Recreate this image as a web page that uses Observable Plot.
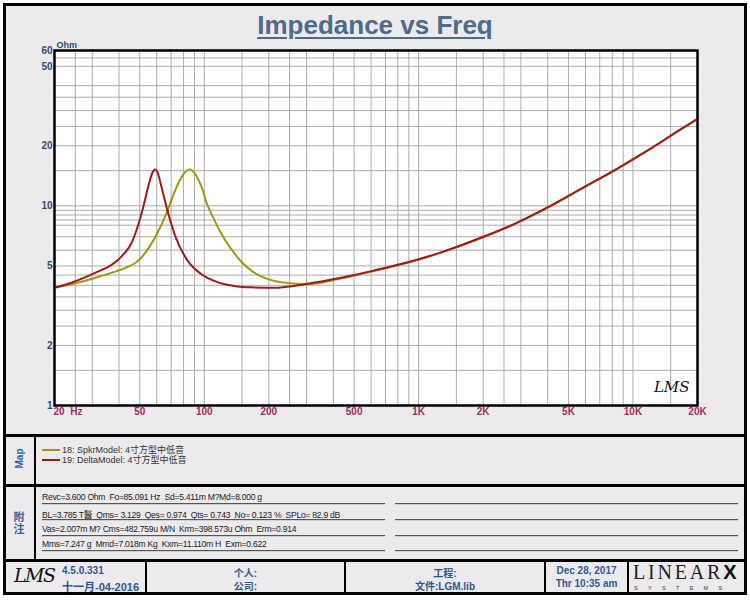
<!DOCTYPE html>
<html><head><meta charset="utf-8">
<script src="https://cdn.jsdelivr.net/npm/d3@7"></script>
<script src="https://cdn.jsdelivr.net/npm/@observablehq/plot@0.6"></script>
<style>
body{margin:0;background:#fff;}
#page{position:relative;width:750px;height:600px;background:#fff;font-family:"Liberation Sans",Arial,"Noto Sans CJK SC",sans-serif;overflow:hidden;}
#sheet{position:absolute;left:3px;top:3px;width:738px;height:586px;border:3px solid #000;background:#edeaee;}
.abs{position:absolute;}
.hsep{position:absolute;left:3px;width:744px;height:3px;background:#000;}
.vsep{position:absolute;width:2px;background:#000;}
#title{position:absolute;left:0;width:750px;top:10px;text-align:center;font-family:"Liberation Sans Narrow","Arial Narrow","Liberation Sans",sans-serif;font-stretch:condensed;font-weight:bold;font-size:26px;color:#4e6b8b;text-decoration:underline;text-decoration-thickness:2px;text-underline-offset:3px;}
#chart{position:absolute;left:0;top:0;}
.leg{position:absolute;left:42px;font-size:9px;color:#333;white-space:nowrap;line-height:10px;}
.sw{display:inline-block;width:18px;height:2px;vertical-align:middle;margin-right:2px;position:relative;top:-1px;}
.side{position:absolute;color:#35609a;font-weight:bold;font-size:10px;}
.note{position:absolute;left:42px;font-size:8.6px;letter-spacing:-0.28px;color:#222;white-space:pre;}
.nl{position:absolute;height:1px;background:#555;border-bottom:1px solid #cfcfcf;}
.ft{position:absolute;font-size:10px;font-weight:bold;color:#2d5a94;text-align:center;white-space:nowrap;}
</style></head>
<body><div id="page">
<div id="sheet"></div>
<div id="title">Impedance vs Freq</div>
<div id="chart"></div>
<div class="hsep" style="top:434px"></div>
<div class="hsep" style="top:484px"></div>
<div class="hsep" style="top:559px"></div>
<div class="vsep" style="left:34px;top:437px;height:122px"></div>
<div class="vsep" style="left:145px;top:562px;height:30px"></div>
<div class="vsep" style="left:344px;top:562px;height:30px"></div>
<div class="vsep" style="left:544px;top:562px;height:30px"></div>
<div class="vsep" style="left:627px;top:562px;height:30px"></div>
<div id="legend"></div>
<div class="side" style="left:5px;top:453px;width:28px;text-align:center;transform:rotate(-90deg);">Map</div>
<div class="side" style="left:12px;top:511px;width:14px;font-size:11px;line-height:12px;text-align:center;">附<br>注</div>
<div id="notes"></div>
<div class="abs" style="left:14px;top:564px;font-family:'DejaVu Serif',serif;font-style:italic;font-size:19px;color:#111;letter-spacing:-1.5px;">LMS</div>
<div class="ft" style="left:62px;top:565px;text-align:left;">4.5.0.331</div>
<div class="ft" style="left:62px;top:578px;text-align:left;font-size:11px;">十一月-04-2016</div>
<div class="ft" style="left:147px;width:197px;top:565px;">个人:</div>
<div class="ft" style="left:147px;width:197px;top:578px;">公司:</div>
<div class="ft" style="left:346px;width:198px;top:565px;">工程:</div>
<div class="ft" style="left:346px;width:198px;top:578px;">文件:LGM.lib</div>
<div class="ft" style="left:546px;width:81px;top:565px;">Dec 28, 2017</div>
<div class="ft" style="left:546px;width:81px;top:578px;">Thr 10:35 am</div>
<div class="abs" style="left:633px;top:561px;font-family:'Liberation Serif',serif;font-size:20px;line-height:22px;color:#222;letter-spacing:2.8px;white-space:nowrap;">LINEAR<span style="font-family:'Liberation Sans';font-weight:900;color:#111;letter-spacing:0;">X</span></div>
<div class="abs" style="left:634px;top:585px;font-size:5.5px;line-height:6px;color:#333;letter-spacing:10.3px;white-space:nowrap;">SYSTEMS</div>
</div>
<script>
// ---- data ----
const spkrLabel = "18: SpkrModel: 4寸方型中低音";
const deltaLabel = "19: DeltaModel: 4寸方型中低音";
const spkrFreq = [20, 24, 27, 33, 39, 44, 47, 49.5, 52, 56, 61, 65, 69, 72, 76, 79, 82, 85, 88, 92, 98, 103, 110, 115, 125, 138, 150, 165, 180, 212, 253, 303, 434, 621, 889, 1273, 2000, 2802, 4010, 5740, 8220, 11770, 16800, 20000];
const spkrZ    = [3.88, 4.05, 4.18, 4.45, 4.71, 4.95, 5.13, 5.35, 5.67, 6.34, 7.46, 8.63, 10.14, 11.47, 13.13, 14.13, 14.85, 15.2, 15.0, 14.1, 12.1, 10.2, 8.75, 7.9, 6.75, 5.8, 5.2, 4.75, 4.48, 4.2, 4.1, 4.05, 4.33, 4.72, 5.18, 5.83, 6.95, 8.1, 9.8, 12.15, 15.05, 19.0, 24.2, 27.2];
const deltaFreq = [20, 24, 27.4, 32.8, 36, 39.3, 41.5, 43.7, 45.7, 47.8, 51.4, 55.2, 57.2, 58.9, 60.7, 62.6, 67.3, 73.5, 83.4, 96.2, 115, 143, 165, 211, 303, 434, 621, 889, 1273, 2000, 2802, 4010, 5740, 8220, 11770, 16800, 20000];
const deltaZ    = [3.9, 4.12, 4.36, 4.75, 4.98, 5.32, 5.65, 6.02, 6.5, 7.33, 9.48, 12.9, 14.6, 15.2, 14.6, 12.9, 9.48, 6.97, 5.33, 4.57, 4.15, 3.95, 3.91, 3.89, 4.07, 4.36, 4.75, 5.22, 5.85, 7.0, 8.13, 9.85, 12.2, 15.1, 19.0, 24.3, 27.3];
const xTickValues = [50, 100, 200, 500, 1000, 2000, 5000, 10000, 20000];
const xTickLabels = ["50", "100", "200", "500", "1K", "2K", "5K", "10K", "20K"];
const xFirstTick = 20;
const xFirstLabel = "20  Hz";
const yTickValues = [1, 2, 5, 10, 20, 50, 60];
const yTickLabels = ["1", "2", "5", "10", "20", "50", "60"];
const xGridMantissa = [1, 1.5, 2, 2.5, 3, 4, 5, 6, 7, 8, 9];
const xGridDecades = [10, 100, 1000, 10000];
const yGridValues = [1.5, 2, 2.5, 3, 3.5, 4, 4.5, 5, 6, 7, 8, 8.5, 9, 9.5, 10, 15, 20, 25, 30, 35, 40, 50, 55];
const noteLines = [
  "Revc=3.600 Ohm  Fo=85.091 Hz  Sd=5.411m M?Md=8.000 g",
  "BL=3.785 T醔  Qms= 3.129  Qes= 0.974  Qts= 0.743  No= 0.123 %  SPLo= 82.9 dB",
  "Vas=2.007m M? Cms=482.759u M/N  Krm=398.573u Ohm  Erm=0.914",
  "Mms=7.247 g  Mmd=7.018m Kg  Kxm=11.110m H  Exm=0.622"
];
const spkrColor = "#9a9a16";
const deltaColor = "#9e1a1c";

// ---- build ----
const spkr = spkrFreq.map((f, i) => ({f, z: spkrZ[i]}));
const delta = deltaFreq.map((f, i) => ({f, z: deltaZ[i]}));
const xGrid = xGridDecades.flatMap(d => xGridMantissa.map(m => m * d)).filter(v => v > 20 && v < 20000);
const xTicks = xTickValues.map((v, i) => ({v, label: xTickLabels[i]}));

const chart = Plot.plot({
  width: 750, height: 435,
  marginLeft: 54, marginRight: 53, marginTop: 50, marginBottom: 30,
  style: {background: "transparent", fontFamily: "Liberation Sans, Arial, sans-serif"},
  x: {type: "log", domain: [20, 20000], axis: null},
  y: {type: "log", domain: [1, 60], axis: null},
  marks: [
    Plot.frame({fill: "white"}),
    Plot.ruleX(xGrid, {stroke: "#ababab", strokeWidth: 1}),
    Plot.ruleY(yGridValues, {stroke: "#ababab", strokeWidth: 1}),
    Plot.line(spkr, {x: "f", y: "z", stroke: spkrColor, strokeWidth: 2, curve: "monotone-x"}),
    Plot.line(delta, {x: "f", y: "z", stroke: deltaColor, strokeWidth: 2, curve: "monotone-x"}),
    Plot.frame({stroke: "#000", strokeWidth: 2.5}),
    Plot.axisY({ticks: yTickValues, tickFormat: d => yTickLabels[yTickValues.indexOf(d)], tickSize: 0, tickPadding: 2, fill: "#2d4b7e", fontWeight: "bold", fontSize: 10, label: null}),
    Plot.text(xTicks, {x: "v", text: "label", frameAnchor: "bottom", dy: 9, fill: "#a52a62", fontWeight: "bold", fontSize: 10}),
    Plot.text([xFirstTick], {x: d => d, frameAnchor: "bottom", dy: 9, textAnchor: "start", dx: -1, text: () => xFirstLabel, fill: "#a52a62", fontWeight: "bold", fontSize: 10}),
    Plot.text(["Ohm"], {frameAnchor: "top-left", dy: -9, dx: 2, textAnchor: "start", fill: "#2d4b7e", fontWeight: "bold", fontSize: 9}),
    Plot.text(["LMS"], {frameAnchor: "bottom-right", dx: -8, dy: -14, textAnchor: "end", fill: "#111", fontSize: 15, fontStyle: "italic", fontFamily: "DejaVu Serif, serif"})
  ]
});
document.getElementById("chart").appendChild(chart);

const leg = document.getElementById("legend");
[[spkrLabel, spkrColor, 445], [deltaLabel, deltaColor, 455]].forEach(([t, c, top]) => {
  const d = document.createElement("div");
  d.className = "leg";
  d.style.top = top + "px";
  d.innerHTML = `<span class="sw" style="background:${c}"></span>${t}`;
  leg.appendChild(d);
});

const notes = document.getElementById("notes");
const lineY = [503, 519, 535, 550];
noteLines.forEach((t, i) => {
  const d = document.createElement("div");
  d.className = "note";
  d.style.top = (lineY[i] - 11) + "px";
  d.textContent = t;
  notes.appendChild(d);
  const l1 = document.createElement("div");
  l1.className = "nl"; l1.style.left = "42px"; l1.style.width = "343px"; l1.style.top = lineY[i] + "px";
  notes.appendChild(l1);
  const l2 = document.createElement("div");
  l2.className = "nl"; l2.style.left = "395px"; l2.style.width = "343px"; l2.style.top = lineY[i] + "px";
  notes.appendChild(l2);
});
</script>
</body></html>
